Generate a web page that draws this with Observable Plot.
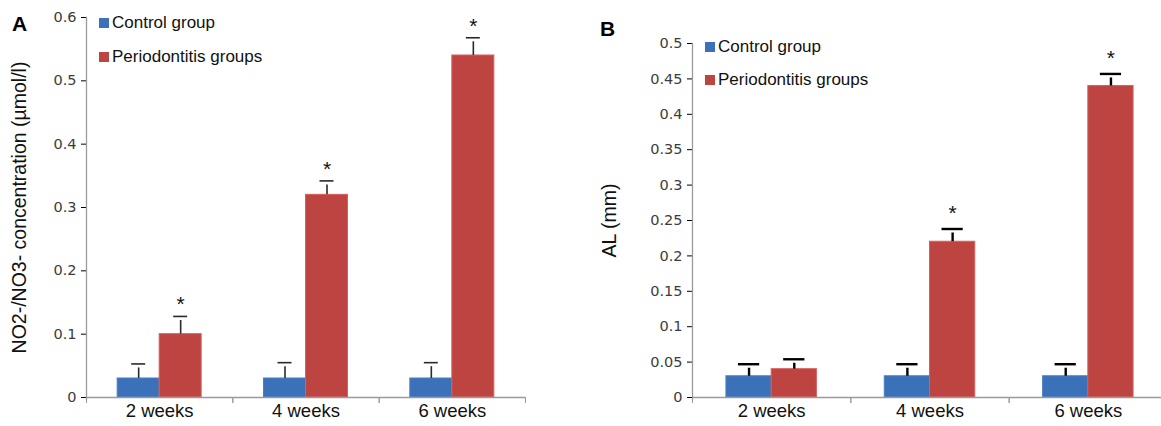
<!DOCTYPE html>
<html><head><meta charset="utf-8">
<script src="https://cdn.jsdelivr.net/npm/d3@7"></script>
<script src="https://cdn.jsdelivr.net/npm/@observablehq/plot@0.6"></script>
<style>
html,body{margin:0;padding:0;background:#fff;overflow:hidden;width:1161px;height:426px}
#wrap{position:relative;width:1161px;height:426px;overflow:hidden;background:#fff}
.panel{position:absolute;top:0}
.plabel{position:absolute;font:bold 21px "Liberation Sans",Arial,sans-serif;line-height:1;color:#000}
.leg{position:absolute;font:17px "Liberation Sans",Arial,sans-serif;color:#111;display:flex;align-items:center;height:20px;line-height:20px;white-space:nowrap}
.leg .sw{width:10px;height:10px;margin-right:3px;display:inline-block}
g[aria-label="y-axis tick label"]{font-family:"DejaVu Sans",sans-serif;font-size:14.5px;fill:#3c3c3c}
g[aria-label="y-axis tick"]{stroke:#9a9a9a}
g[aria-label="y-axis label"]{font-family:"Liberation Sans",Arial,sans-serif;font-size:19.5px;fill:#111}
g[aria-label="fx-axis tick label"]{font-family:"Liberation Sans",Arial,sans-serif;font-size:18.5px;fill:#111}
</style>
</head><body>
<div id="wrap"></div>
<script>
const weeks = ["2 weeks", "4 weeks", "6 weeks"];
const groups = ["Control group", "Periodontitis groups"];
const colors = ["#3A71B8", "#BE4442"];
const edgeColors = ["#4A7FC2", "#D6605D"];

// Panel A: NO2-/NO3- concentration (µmol/l)
const aControl = [0.03, 0.03, 0.03];
const aControlErr = [0.023, 0.025, 0.025];
const aPerio = [0.10, 0.32, 0.54];
const aPerioErr = [0.028, 0.022, 0.028];
const aControlStar = [false, false, false];
const aPerioStar = [true, true, true];
const aTicks = [0, 0.1, 0.2, 0.3, 0.4, 0.5, 0.6];

// Panel B: AL (mm)
const bControl = [0.03, 0.03, 0.03];
const bControlErr = [0.017, 0.017, 0.017];
const bPerio = [0.04, 0.22, 0.44];
const bPerioErr = [0.014, 0.018, 0.017];
const bControlStar = [false, false, false];
const bPerioStar = [false, true, true];
const bTicks = [0, 0.05, 0.1, 0.15, 0.2, 0.25, 0.3, 0.35, 0.4, 0.45, 0.5];

function rowsOf(control, controlErr, perio, perioErr, cStar, pStar) {
  const rows = [];
  weeks.forEach((w, i) => {
    rows.push({week: w, group: groups[0], value: control[i], err: controlErr[i], star: cStar[i]});
    rows.push({week: w, group: groups[1], value: perio[i], err: perioErr[i], star: pStar[i]});
  });
  return rows;
}

function panel(o) {
  const rows = o.rows;
  const plotH = o.height - o.mt - o.mb;
  return Plot.plot({
    width: o.width, height: o.height,
    marginLeft: o.ml, marginRight: o.mr, marginTop: o.mt, marginBottom: o.mb,
    style: {background: "white", fontFamily: "Liberation Sans, Arial, sans-serif", overflow: "visible"},
    fx: {domain: weeks, padding: 0, label: null, tickSize: 0, tickPadding: 6, round: false},
    x: {domain: groups, paddingInner: 0, paddingOuter: o.pad, axis: null, round: false},
    y: {domain: [0, o.ymax], ticks: o.ticks, tickFormat: d => String(d), tickSize: 5, tickPadding: 5,
        label: o.label, labelArrow: "none", labelAnchor: "center", labelOffset: o.labelOffset},
    color: {domain: groups, range: colors},
    marks: [
      Plot.barY(rows, {fx: "week", x: "group", y: "value", fill: "group",
        stroke: d => edgeColors[groups.indexOf(d.group)], strokeWidth: 1}),
      Plot.ruleY([0], {stroke: "#9a9a9a", strokeWidth: 1.3}),
      Plot.frame({anchor: "left", facetAnchor: "left", stroke: "#9a9a9a", strokeWidth: 1.3, insetBottom: -2}),
      Plot.frame({anchor: "left", stroke: "#9a9a9a", insetTop: plotH, insetBottom: -5}),
      Plot.frame({anchor: "right", stroke: "#9a9a9a", insetTop: plotH, insetBottom: -5}),
      Plot.ruleX(rows, {fx: "week", x: "group", y1: "value", y2: d => d.value + d.err,
        stroke: o.errStroke, strokeWidth: o.errWidth, insetBottom: -4}),
      Plot.tickY(rows, {fx: "week", x: "group", y: d => d.value + d.err,
        stroke: o.errStroke, strokeWidth: o.errWidth, insetLeft: o.capInset, insetRight: o.capInset}),
      Plot.text(rows.filter(d => d.star), {fx: "week", x: "group", y: d => d.value + d.err,
        text: () => "*", fontSize: 21, lineAnchor: "bottom", dy: o.starDy, fill: "#111"})
    ]
  });
}

const wrap = document.getElementById("wrap");

const A = panel({
  rows: rowsOf(aControl, aControlErr, aPerio, aPerioErr, aControlStar, aPerioStar),
  width: 580, height: 426, ml: 86, mr: 55, mt: 17, mb: 29,
  ymax: 0.6, ticks: aTicks, label: "NO2-/NO3- concentration (µmol/l)", labelOffset: 74,
  pad: 0.742, capInset: 14, errStroke: "#2a2a2a", errWidth: 1.6, starDy: -5
});
A.classList.add("panel"); A.style.left = "0px";
wrap.appendChild(A);

const B = panel({
  rows: rowsOf(bControl, bControlErr, bPerio, bPerioErr, bControlStar, bPerioStar),
  width: 587, height: 426, ml: 112, mr: 0, mt: 43, mb: 29,
  ymax: 0.5, ticks: bTicks, label: "AL (mm)", labelOffset: 90,
  pad: 0.75, capInset: 12, errStroke: "#000", errWidth: 2.4, starDy: -9
});
B.classList.add("panel"); B.style.left = "580px";
wrap.appendChild(B);

function addDiv(cls, html, left, top) {
  const d = document.createElement("div");
  d.className = cls; d.innerHTML = html;
  d.style.left = left + "px"; d.style.top = top + "px";
  wrap.appendChild(d);
}
addDiv("plabel", "A", 12, 13);
addDiv("plabel", "B", 600, 18);
function legendRow(i, left, cy) {
  addDiv("leg", `<span class="sw" style="background:${colors[i]}"></span>${groups[i]}`, left, cy - 10);
}
legendRow(0, 99, 23); legendRow(1, 99, 57);
legendRow(0, 705, 47); legendRow(1, 705, 80);
</script>
</body></html>
